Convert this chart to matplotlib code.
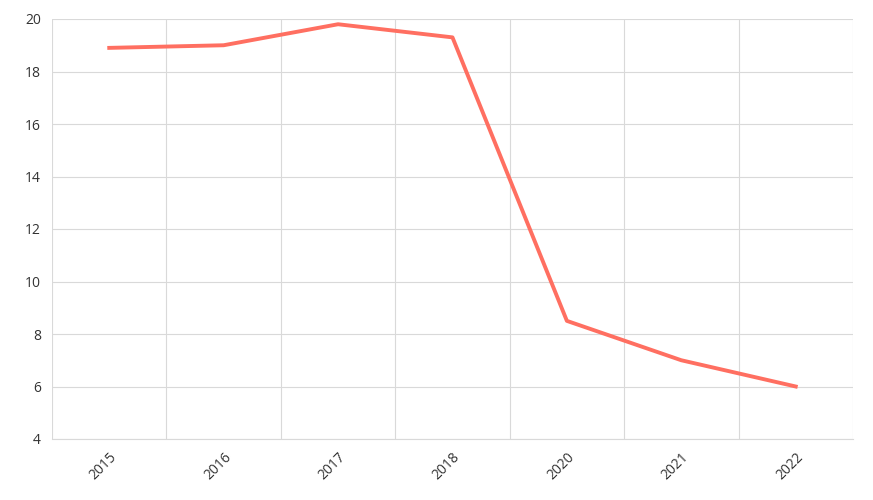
import matplotlib
matplotlib.use("Agg")
import matplotlib.pyplot as plt
import numpy as np

years = ["2015", "2016", "2017", "2018", "2020", "2021", "2022"]
values = [18.9, 19.0, 19.8, 19.3, 8.5, 7.0, 6.0]

plt.rcParams['font.family'] = ['Open Sans', 'DejaVu Sans']

fig = plt.figure(figsize=(8.73, 5), dpi=100)
ax = fig.add_axes([0.0596, 0.122, 0.9174, 0.84])

x = np.arange(len(years))
ax.plot(x, values, color="#ff6f61", linewidth=2.8, solid_joinstyle="round", zorder=3)

ax.set_xlim(-0.5, len(years) - 0.5)
ax.set_ylim(4, 20)
ax.set_yticks(np.arange(4, 21, 2))
ax.set_xticks(x)
ax.set_xticklabels(years, rotation=45, ha="right", rotation_mode="anchor")
ax.set_xticks(np.arange(-0.5, len(years)), minor=True)

ax.grid(axis="y", color="#d9d9d9", linewidth=0.8)
ax.grid(axis="x", which="minor", color="#d9d9d9", linewidth=0.8)
ax.tick_params(axis="both", which="both", length=0, labelsize=10, colors="#333333")
ax.tick_params(axis="x", pad=8)
ax.tick_params(axis="y", pad=8)

for s in ["top", "right", "left"]:
    ax.spines[s].set_visible(False)
ax.spines["bottom"].set_color("#d9d9d9")

fig.savefig("out.png", dpi=100)
